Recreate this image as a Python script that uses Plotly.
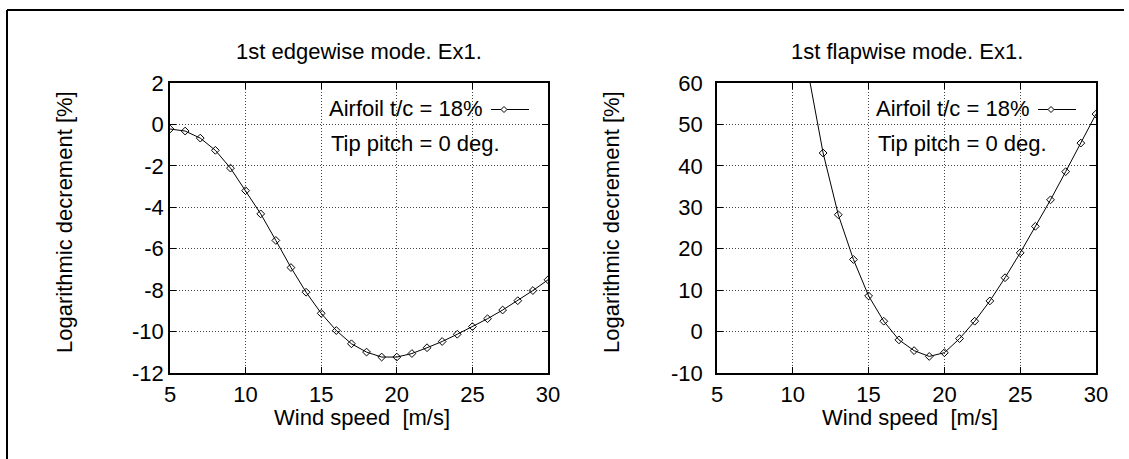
import plotly.graph_objects as go

# ---- data ----
wind_edge = [5, 6, 7, 8, 9, 10, 11, 12, 13, 14, 15, 16, 17, 18, 19, 20, 21, 22, 23, 24, 25, 26, 27, 28, 29, 30]
logdec_edge = [-0.22, -0.32, -0.66, -1.25, -2.11, -3.2, -4.32, -5.6, -6.91, -8.1, -9.12, -9.95, -10.59,
               -10.99, -11.23, -11.23, -11.06, -10.78, -10.48, -10.13, -9.76, -9.38, -8.96, -8.51, -8.02, -7.5]

wind_flap = [11, 12, 13, 14, 15, 16, 17, 18, 19, 20, 21, 22, 23, 24, 25, 26, 27, 28, 29, 30]
logdec_flap = [62.8, 43.1, 28.2, 17.4, 8.6, 2.5, -2.0, -4.6, -6.0, -5.1, -1.7, 2.5, 7.4, 13.0, 19.0,
               25.4, 31.8, 38.6, 45.5, 52.5]

titles = ["1st edgewise mode. Ex1.", "1st flapwise mode. Ex1."]
legend_label = "Airfoil t/c = 18%"
note_label = "Tip pitch = 0 deg."
x_title = "Wind speed  [m/s]"
y_title = "Logarithmic decrement [%]"
x_ticks = [5, 10, 15, 20, 25, 30]
y_ticks_edge = [-12, -10, -8, -6, -4, -2, 0, 2]
y_ticks_flap = [-10, 0, 10, 20, 30, 40, 50, 60]

W, H = 1129, 459
FONT = "Liberation Sans, Arial, sans-serif"
FS = 22


def px(x):
    return x / W


def py(y):
    return 1 - y / H


def labels(vals):
    return [str(v) for v in vals]  # plain hyphen-minus like the reference


fig = go.Figure()

line_style = dict(color="black", width=1)
marker_style = dict(symbol="diamond-open", size=6, color="black", line=dict(width=1, color="black"))

fig.add_trace(go.Scatter(x=wind_edge, y=logdec_edge, mode="lines+markers", line=line_style,
                         marker=marker_style, xaxis="x", yaxis="y", showlegend=False))
fig.add_trace(go.Scatter(x=wind_flap, y=logdec_flap, mode="lines+markers", line=line_style,
                         marker=marker_style, xaxis="x2", yaxis="y2", showlegend=False))

# plot areas (pixels)
L1, R1 = 170, 548
L2, R2 = 717, 1096
T, B = 83, 373

axis_common = dict(
    showline=True, linecolor="black", linewidth=1.5, mirror="ticks",
    ticks="inside", ticklen=6, tickcolor="black", tickwidth=1,
    showgrid=True, gridcolor="#444444", gridwidth=1, griddash="1px,2px",
    zeroline=False, tickfont=dict(family=FONT, size=FS, color="black"),
    automargin=False,
)

fig.update_layout(
    width=W, height=H,
    margin=dict(l=0, r=0, t=0, b=0),
    paper_bgcolor="white", plot_bgcolor="white",
    font=dict(family=FONT, size=FS, color="black"),
    xaxis=dict(domain=[px(L1), px(R1)], range=[5, 30], tickvals=x_ticks, ticktext=labels(x_ticks),
               anchor="y", ticklabelstandoff=1, **axis_common),
    yaxis=dict(domain=[py(B), py(T)], range=[-12, 2], tickvals=y_ticks_edge, ticktext=labels(y_ticks_edge),
               anchor="x", ticklabelstandoff=0, **axis_common),
    xaxis2=dict(domain=[px(L2), px(R2)], range=[5, 30], tickvals=x_ticks, ticktext=labels(x_ticks),
                anchor="y2", ticklabelstandoff=1, **axis_common),
    yaxis2=dict(domain=[py(B), py(T)], range=[-10, 60], tickvals=y_ticks_flap, ticktext=labels(y_ticks_flap),
                anchor="x2", ticklabelstandoff=8, **axis_common),
)

ann = []
shapes = []
for (L, R, title) in [(L1, R1, titles[0]), (L2, R2, titles[1])]:
    cx = (L + R) / 2
    ann.append(dict(x=px(cx), y=py(52), xref="paper", yref="paper", text=title, showarrow=False,
                    xanchor="center", yanchor="middle", font=dict(family=FONT, size=FS)))
    ann.append(dict(x=px(cx + 3), y=py(417), xref="paper", yref="paper", text=x_title, showarrow=False,
                    xanchor="center", yanchor="middle", font=dict(family=FONT, size=FS)))
    ann.append(dict(x=px(L - 106), y=py(222), xref="paper", yref="paper", text=y_title, showarrow=False,
                    textangle=-90, xanchor="center", yanchor="middle", font=dict(family=FONT, size=FS)))
    # legend
    tx = L + 157
    ann.append(dict(x=px(tx), y=py(109), xref="paper", yref="paper", text=legend_label, showarrow=False,
                    xanchor="left", yanchor="middle", font=dict(family=FONT, size=FS)))
    ann.append(dict(x=px(tx + 2), y=py(143), xref="paper", yref="paper", text=note_label, showarrow=False,
                    xanchor="left", yanchor="middle", font=dict(family=FONT, size=FS)))
    lx0, lx1, mx, ly = L + 321, L + 359, L + 334, 109.5
    shapes.append(dict(type="line", xref="paper", yref="paper", x0=px(lx0), x1=px(lx1), y0=py(ly), y1=py(ly),
                       line=dict(color="black", width=1)))
    d = 3
    path = (f"M {px(mx - d)},{py(ly)} L {px(mx)},{py(ly - d)} L {px(mx + d)},{py(ly)} "
            f"L {px(mx)},{py(ly + d)} Z")
    shapes.append(dict(type="path", xref="paper", yref="paper", path=path, fillcolor="white",
                       line=dict(color="black", width=1)))

# outer frame: only its top and left edges fall inside the picture
shapes.append(dict(type="line", xref="paper", yref="paper", x0=px(7), x1=px(1124), y0=py(10), y1=py(10),
                   line=dict(color="black", width=2)))
shapes.append(dict(type="line", xref="paper", yref="paper", x0=px(7), x1=px(7), y0=py(10), y1=py(H + 5),
                   line=dict(color="black", width=2)))

fig.update_layout(annotations=ann, shapes=shapes)

fig.write_html("out.html")
